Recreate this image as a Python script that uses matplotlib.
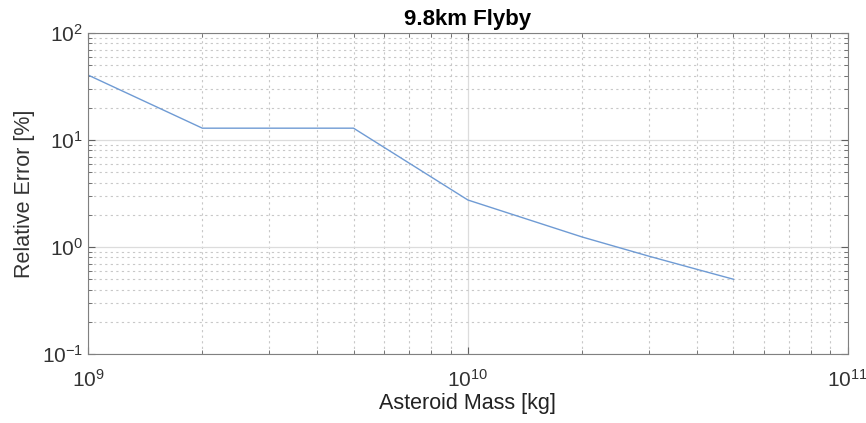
import numpy as np
import matplotlib
matplotlib.use("Agg")
import matplotlib.pyplot as plt

plt.rcParams['font.family'] = ['Liberation Sans', 'DejaVu Sans']

mass = [1e9, 2e9, 3e9, 4e9, 5e9, 1e10, 2e10, 3e10, 4e10, 5e10]
rel_err = [40.5, 12.9, 12.9, 12.9, 12.9, 2.75, 1.24, 0.82, 0.62, 0.50]

fig = plt.figure(figsize=(8.66, 4.23), dpi=100)
ax = fig.add_axes([0.1016, 0.163, 0.8774, 0.759])

ax.loglog(mass, rel_err, color='#6f9bd4', lw=1.0)
ax.set_xlim(1e9, 1e11)
ax.set_ylim(1e-1, 1e2)

ax.grid(True, which='major', color='#dcdcdc', ls='-', lw=0.9)
ax.grid(True, which='minor', color='#c8c8c8', ls=(0, (2, 3)), lw=0.8)
ax.set_axisbelow(True)

for s in ax.spines.values():
    s.set_color('#808080')
ax.tick_params(which='both', direction='in', colors='#606060', top=True, right=True,
               labelsize=15, labelcolor='#333333')
ax.tick_params(which='major', length=5)
ax.tick_params(which='minor', length=3)
ax.tick_params(axis='x', pad=11)

ax.set_xlabel("Asteroid Mass [kg]", fontsize=15.5, color='#222222', labelpad=1)
ax.set_ylabel("Relative Error [%]", fontsize=15.5, color='#333333', labelpad=5)
ax.set_title("9.8km Flyby", fontsize=16, fontweight='bold', pad=6)

fig.savefig("out.png", dpi=100)
